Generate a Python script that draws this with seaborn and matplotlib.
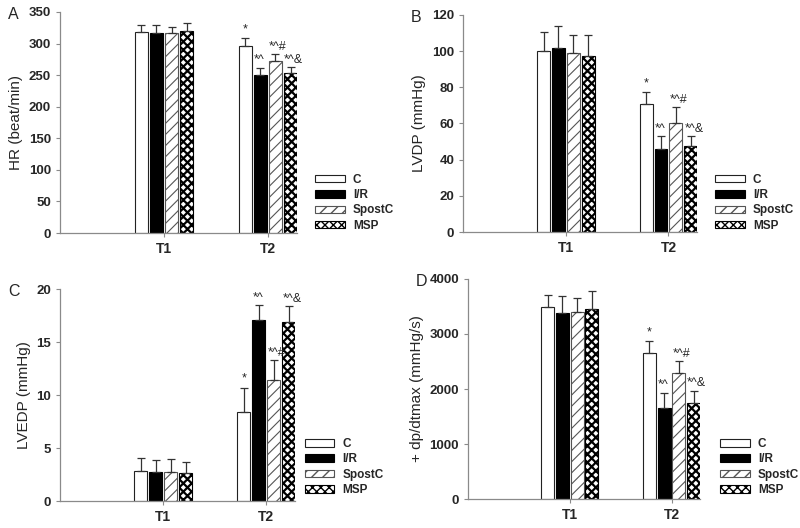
import pandas as pd
import seaborn as sns
import matplotlib.pyplot as plt
import matplotlib.patches as mpatches

# groups and time points
groups = ['C', 'I/R', 'SpostC', 'MSP']
times = ['T1', 'T2']
notes_t2 = ['*', '*^', '*^#', '*^&']

# A: heart rate
hr_t1 = [319, 317, 316, 320]
hr_t1_err = [11, 12, 11, 12]
hr_t2 = [296, 251, 272, 253]
hr_t2_err = [13, 11, 11, 10]

# B: LVDP
lvdp_t1 = [100, 102, 99, 97.5]
lvdp_t1_err = [10.5, 12, 10, 11.5]
lvdp_t2 = [71, 46, 60, 47.5]
lvdp_t2_err = [6.5, 7, 9, 5.5]

# C: LVEDP
lvedp_t1 = [2.8, 2.75, 2.7, 2.6]
lvedp_t1_err = [1.25, 1.1, 1.3, 1.05]
lvedp_t2 = [8.4, 17.05, 11.45, 16.85]
lvedp_t2_err = [2.3, 1.45, 1.85, 1.55]

# D: +dp/dtmax
dpdt_t1 = [3485, 3380, 3395, 3455]
dpdt_t1_err = [225, 310, 255, 330]
dpdt_t2 = [2650, 1650, 2295, 1745]
dpdt_t2_err = [225, 280, 210, 225]

sns.set_style('ticks')
plt.rcParams['font.family'] = ['Liberation Sans', 'DejaVu Sans']
plt.rcParams['hatch.linewidth'] = 1.0

palette = {'C': 'white', 'I/R': 'black', 'SpostC': 'white', 'MSP': 'white'}
hatches = {'C': '', 'I/R': '', 'SpostC': '///', 'MSP': 'xxxx'}
hatch_lw = {'C': 1.0, 'I/R': 1.0, 'SpostC': 0.8, 'MSP': 1.6}
edges = {'C': '#222222', 'I/R': 'black', 'SpostC': '#555555', 'MSP': 'black'}
spine_col = '#8a8a8a'


def set_hatch(p, g):
    p.set_hatch(hatches[g])
    if hasattr(p, 'set_hatch_linewidth'):
        p.set_hatch_linewidth(hatch_lw[g])


def draw_panel(ax, letter, ylabel, t1, t1_err, t2, t2_err, ymax, ystep, leg_xy):
    df = pd.DataFrame({
        'time': ['T1'] * 4 + ['T2'] * 4,
        'group': groups * 2,
        'value': t1 + t2,
        'err': t1_err + t2_err,
    })
    sns.barplot(data=df, x='time', y='value', hue='group', order=times,
                hue_order=groups, palette=palette, width=0.58, gap=0.13,
                errorbar=None, edgecolor='black', linewidth=0.8,
                saturation=1, legend=False, ax=ax)

    for cont, g in zip(ax.containers, groups):
        bars = sorted(cont.patches, key=lambda b: b.get_x())
        sub = df[df.group == g].set_index('time')
        for bar, t in zip(bars, times):
            set_hatch(bar, g)
            bar.set_edgecolor(edges[g])
            x = bar.get_x() + bar.get_width() / 2
            h = bar.get_height()
            e = sub.loc[t, 'err']
            ax.errorbar(x, h, yerr=[[0], [e]], fmt='none', ecolor='#333333',
                        elinewidth=0.9, capsize=3, capthick=0.9, zorder=3)
            if t == 'T2':
                note = notes_t2[groups.index(g)]
                if note == '*':
                    ax.annotate(note, (x, h + e), xytext=(0, 2),
                                textcoords='offset points', ha='center',
                                va='bottom', fontsize=9)
                else:
                    ax.annotate(note, (bar.get_x(), h + e), xytext=(0, 1),
                                textcoords='offset points', ha='left',
                                va='bottom', fontsize=9)

    ax.set_xlim(-1, 1.28)
    ax.set_ylim(0, ymax)
    ax.set_yticks(range(0, ymax + 1, ystep))
    ax.set_xlabel('')
    ax.set_ylabel(ylabel, fontsize=11)
    ax.tick_params(axis='both', length=3, width=0.8, color=spine_col,
                   labelsize=9.5)
    for lab in ax.get_xticklabels() + ax.get_yticklabels():
        lab.set_fontweight('bold')
    for lab in ax.get_xticklabels():
        lab.set_fontsize(10)
    sns.despine(ax=ax)
    for s in ['left', 'bottom']:
        ax.spines[s].set_color(spine_col)
        ax.spines[s].set_linewidth(0.9)

    handles = []
    for g in groups:
        p = mpatches.Patch(facecolor=palette[g], edgecolor=edges[g],
                           linewidth=0.8, label=g)
        set_hatch(p, g)
        handles.append(p)
    ax.legend(handles=handles, loc='lower left', bbox_to_anchor=leg_xy,
              bbox_transform=fig.transFigure, frameon=False, borderpad=0,
              borderaxespad=0, handlelength=2.5, handleheight=0.6,
              handletextpad=0.7, labelspacing=0.28,
              prop={'size': 8.5, 'weight': 'bold'})
    fig.text(ax.get_position().x0 - 0.065, ax.get_position().y1 - 0.005,
             letter, fontsize=11.5, va='center', ha='left')


fig = plt.figure(figsize=(8, 5.28), dpi=100)
ax_a = fig.add_axes([0.075, 0.5587, 0.2963, 0.4186])
ax_b = fig.add_axes([0.579, 0.5606, 0.2925, 0.411])
ax_c = fig.add_axes([0.075, 0.0511, 0.294, 0.4015])
ax_d = fig.add_axes([0.585, 0.0549, 0.29, 0.4167])

draw_panel(ax_a, 'A', 'HR (beat/min)', hr_t1, hr_t1_err, hr_t2, hr_t2_err,
           350, 50, (0.394, 0.561))
draw_panel(ax_b, 'B', 'LVDP (mmHg)', lvdp_t1, lvdp_t1_err, lvdp_t2,
           lvdp_t2_err, 120, 20, (0.894, 0.561))
draw_panel(ax_c, 'C', 'LVEDP (mmHg)', lvedp_t1, lvedp_t1_err, lvedp_t2,
           lvedp_t2_err, 20, 5, (0.381, 0.0606))
draw_panel(ax_d, 'D', '+ dp/dtmax (mmHg/s)', dpdt_t1, dpdt_t1_err, dpdt_t2,
           dpdt_t2_err, 4000, 1000, (0.9, 0.0606))

fig.savefig('out.png', dpi=100)
